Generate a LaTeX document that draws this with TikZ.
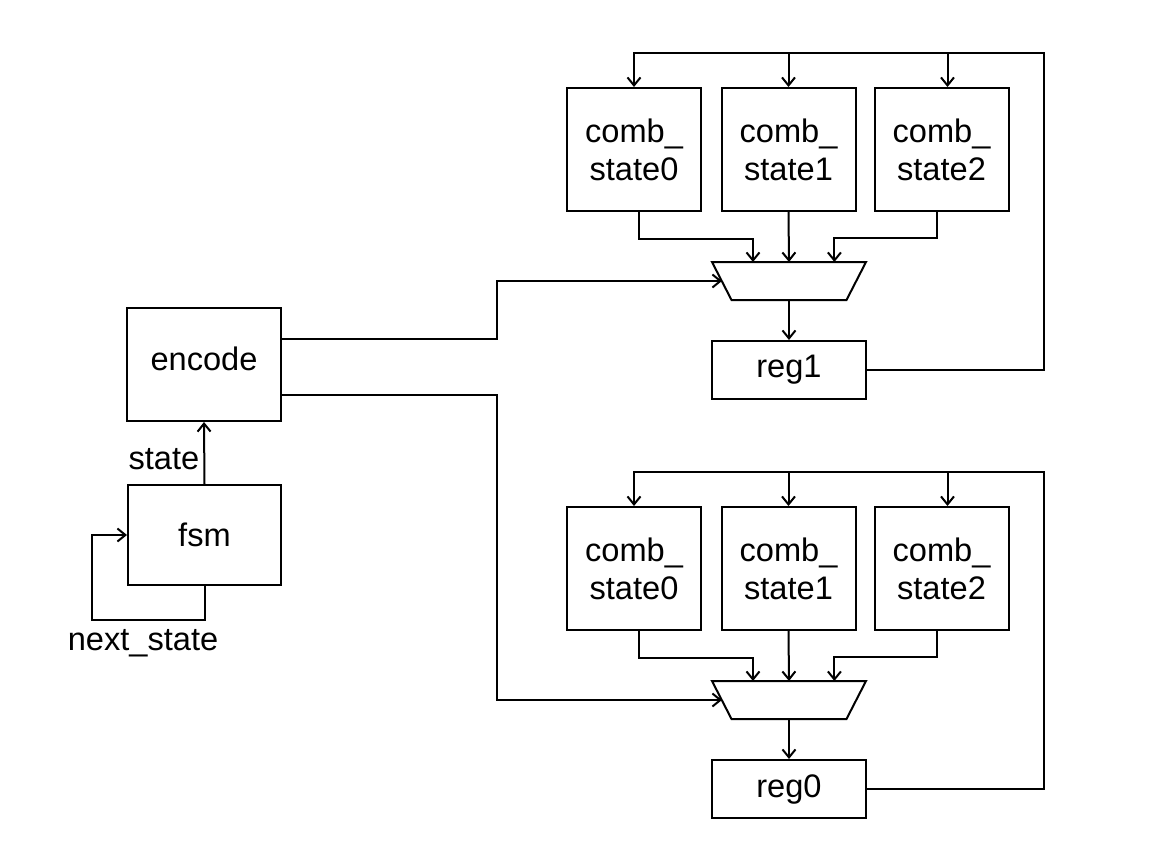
\documentclass[tikz,border=0pt]{standalone}
\usepackage{fontspec}
\setmainfont{Liberation Sans}
\usetikzlibrary{arrows.meta}

\tikzset{
  block/.style={draw, line width=1pt, inner sep=0pt, align=center,
    font=\fontsize{16.3}{19}\selectfont},
  wire/.style={line width=1pt},
  arr/.style={wire, -{Straight Barb[length=4pt, width=6.5pt]}},
  lbl/.style={font=\fontsize{16.3}{19}\selectfont, inner sep=2pt}
}

\begin{document}
\begin{tikzpicture}[x=0.5pt, y=-0.5pt]

% Page frame (pixel grid of the reference, y downwards)
\useasboundingbox (0,0) rectangle (1174,841);

% Left column: encoder and state machine
\node[block, minimum width=77pt, minimum height=56.5pt, text depth=6pt] (encode) at (204,364.5) {encode};
\node[block, minimum width=76.5pt, minimum height=50pt] (fsm) at (204.5,535) {fsm};

\draw[arr] (fsm.north) -- node[lbl, left, pos=0.4] (statelbl) {state} (encode.south);
\draw[arr] (fsm.south) -- ++(0,34) -| ([xshift=-17.5pt]fsm.west) -- (fsm.west);
\node[lbl] (nextlbl) at (143,643) {next\_state};

% Two register slices: \g = slice, \yc = row of comb boxes, \ym = mux, \yr = register
\foreach \g/\yc/\ym/\yr in {1/149.5/281/370, 0/568.5/700/789} {
    \foreach \i/\xc in {0/634, 1/788.5, 2/941.5}
        \node[block, minimum width=67pt, minimum height=61.5pt] (c\g s\i) at (\xc,\yc) {comb\_\\state\i};
    % mux drawn as a trapezoid round its centre
    \coordinate (mux\g) at (789,\ym);
    \draw[wire, line join=miter] (mux\g) ++(-77,-19) -- ++(154,0) -- ++(-19.5,38) -- ++(-115,0) -- cycle;
    \node[block, minimum width=77pt, minimum height=29pt] (reg\g) at (789,\yr) {reg\g};

    % comb outputs into the mux
    \draw[arr] ([xshift=2.5pt]c\g s0.south) -- ++(0,27) -| ([xshift=-18pt, yshift=9.5pt]mux\g);
    \draw[arr] (c\g s1.south) -- ([yshift=9.5pt]mux\g);
    \draw[arr] ([xshift=-2.5pt]c\g s2.south) -- ++(0,26) -| ([xshift=22.7pt, yshift=9.5pt]mux\g);
    \draw[arr] ([yshift=-9.5pt]mux\g) -- (reg\g.north);

    % feedback bus from the register back to the comb boxes
    \coordinate (bus\g) at (1044,\yc-96.5);
    \draw[arr] (reg\g.east) -| (bus\g) -| (c\g s0.north);
    \draw[arr] (c\g s1.north |- bus\g) -- (c\g s1.north);
    \coordinate (tap\g) at ([xshift=3pt]c\g s2.north);
    \draw[arr] (tap\g |- bus\g) -- (tap\g);
}

% Select lines from the encoder
\draw[arr] ([yshift=12.75pt]encode.east) -- ++(215,0) |- ([xshift=-33.5pt]mux1);
\draw[arr] ([yshift=-15.25pt]encode.east) -- ++(215,0) |- ([xshift=-33.5pt]mux0);

\end{tikzpicture}
\end{document}
